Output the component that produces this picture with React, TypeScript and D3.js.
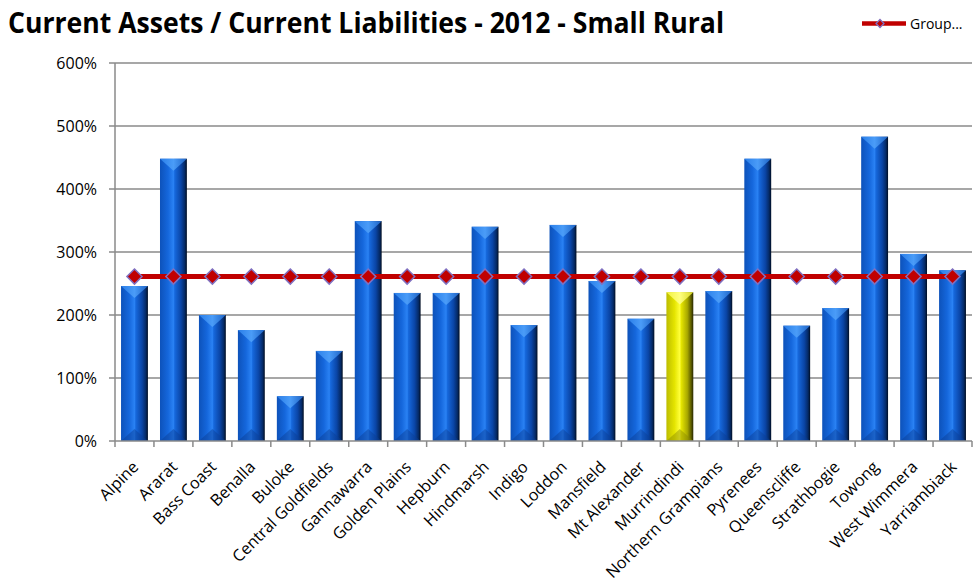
import React from "react";
import * as d3 from "d3";

const categories = ["Alpine","Ararat","Bass Coast","Benalla","Buloke","Central Goldfields","Gannawarra","Golden Plains","Hepburn","Hindmarsh","Indigo","Loddon","Mansfield","Mt Alexander","Murrindindi","Northern Grampians","Pyrenees","Queenscliffe","Strathbogie","Towong","West Wimmera","Yarriambiack"];
const values = [2.46,4.48,2.0,1.76,0.71,1.43,3.49,2.35,2.35,3.40,1.84,3.43,2.54,1.94,2.36,2.38,4.48,1.83,2.11,4.83,2.97,2.71];
const groupAvg = 2.61;
const highlight = "Murrindindi";
const yTicks = [0,1,2,3,4,5,6];

const W = 974, H = 585;
const left = 115, right = 972, top = 63, bottom = 441;

export default function App() {
  const x = d3.scaleBand<string>().domain(categories).range([left, right]).paddingInner(0.31).paddingOuter(0.155);
  const xb = d3.scaleBand<string>().domain(categories).range([left, right]);
  const y = d3.scaleLinear().domain([0, 6]).range([bottom, top]);
  const bw = x.bandwidth();
  const fmt = d3.format(".0%");
  const diamond = d3.symbol().type(d3.symbolDiamond2).size(145);
  const lineGen = d3.line<string>().x(c => xb(c)! + xb.bandwidth() / 2).y(() => y(groupAvg));

  return (
    <svg width={W} height={H} style={{ position: "absolute", left: 0, top: 0, background: "#fff" }}>
      <defs>
        <linearGradient id="gBlue" x1="0" x2="1" y1="0" y2="0">
          <stop offset="0%" stopColor="#0d52ba" />
          <stop offset="30%" stopColor="#1567dc" />
          <stop offset="50%" stopColor="#2a82f4" />
          <stop offset="55%" stopColor="#1668dc" />
          <stop offset="78%" stopColor="#0a45a6" />
          <stop offset="92%" stopColor="#052a66" />
          <stop offset="100%" stopColor="#000d22" />
        </linearGradient>
        <linearGradient id="gBlueTop" x1="0" x2="1" y1="0" y2="0">
          <stop offset="0%" stopColor="#2a7ee8" />
          <stop offset="50%" stopColor="#4a9cf8" />
          <stop offset="100%" stopColor="#1d62c4" />
        </linearGradient>
        <linearGradient id="gYel" x1="0" x2="1" y1="0" y2="0">
          <stop offset="0%" stopColor="#bcbc00" />
          <stop offset="30%" stopColor="#e4e400" />
          <stop offset="50%" stopColor="#ffff3a" />
          <stop offset="55%" stopColor="#e6e600" />
          <stop offset="78%" stopColor="#a8a800" />
          <stop offset="92%" stopColor="#5c5c00" />
          <stop offset="100%" stopColor="#262600" />
        </linearGradient>
        <linearGradient id="gYelTop" x1="0" x2="1" y1="0" y2="0">
          <stop offset="0%" stopColor="#f2f23a" />
          <stop offset="50%" stopColor="#ffff80" />
          <stop offset="100%" stopColor="#d8d820" />
        </linearGradient>
      </defs>

      <text x={8} y={33} fontFamily="Open Sans, sans-serif" fontWeight="bold" fontSize={28} textLength={716} lengthAdjust="spacingAndGlyphs" fill="#000">
        Current Assets / Current Liabilities - 2012 - Small Rural
      </text>

      {/* legend */}
      <g>
        <line x1={862} x2={906} y1={23.5} y2={23.5} stroke="#c00000" strokeWidth={4.5} />
        <path d={d3.symbol().type(d3.symbolDiamond2).size(40)()!} transform="translate(880,23.5)" fill="#c00000" stroke="#8070c0" strokeWidth={1.3} />
        <text x={910} y={29} fontFamily="Open Sans, sans-serif" fontSize={14} fill="#000">Group...</text>
      </g>

      {/* grid */}
      {yTicks.map(t => (
        <g key={t}>
          {t > 0 && <line x1={left} x2={right} y1={y(t)} y2={y(t)} stroke="#8a8a8a" strokeWidth={1.5} />}
          <line x1={left - 6} x2={left} y1={y(t)} y2={y(t)} stroke="#8a8a8a" strokeWidth={1.5} />
          <text x={97} y={y(t) + 6} textAnchor="end" fontFamily="Open Sans, sans-serif" fontSize={16} fill="#000">{fmt(t)}</text>
        </g>
      ))}
      <line x1={left} x2={left} y1={top} y2={bottom} stroke="#8a8a8a" strokeWidth={1.5} />

      {/* bars */}
      {categories.map((c, i) => {
        const v = values[i];
        const x0 = x(c)!;
        const y0 = y(v);
        const hl = c === highlight;
        const h = Math.min(bw * 0.45, bottom - y0);
        return (
          <g key={c}>
            <rect x={x0} y={y0} width={bw} height={bottom - y0} fill={hl ? "url(#gYel)" : "url(#gBlue)"} />
            <path d={`M${x0},${y0}L${x0 + bw},${y0}L${x0 + bw / 2},${y0 + h}Z`} fill={hl ? "url(#gYelTop)" : "url(#gBlueTop)"} />
            <path d={`M${x0},${bottom}L${x0 + bw},${bottom}L${x0 + bw / 2},${bottom - h}Z`} fill={hl ? "#8a8a00" : "#0c3f94"} opacity={0.45} />
          </g>
        );
      })}

      {/* x axis */}
      <line x1={left} x2={right} y1={bottom} y2={bottom} stroke="#8a8a8a" strokeWidth={1.5} />
      {[...categories.map(c => xb(c)!), right].map((t, i) => (
        <line key={i} x1={t} x2={t} y1={bottom} y2={bottom + 6} stroke="#8a8a8a" strokeWidth={1.5} />
      ))}
      {categories.map(c => {
        const cx = xb(c)! + xb.bandwidth() / 2;
        return (
          <text key={c} transform={`translate(${cx + 5},${468}) rotate(-45)`} textAnchor="end" fontFamily="Open Sans, sans-serif" fontSize={16.2} fill="#000">{c}</text>
        );
      })}

      {/* group line */}
      <path d={lineGen(categories)!} fill="none" stroke="#c00000" strokeWidth={5} />
      {categories.map(c => (
        <path key={c} d={diamond()!} transform={`translate(${xb(c)! + xb.bandwidth() / 2},${y(groupAvg)})`} fill="#c00000" stroke="#8070c0" strokeWidth={1.5} />
      ))}
    </svg>
  );
}
